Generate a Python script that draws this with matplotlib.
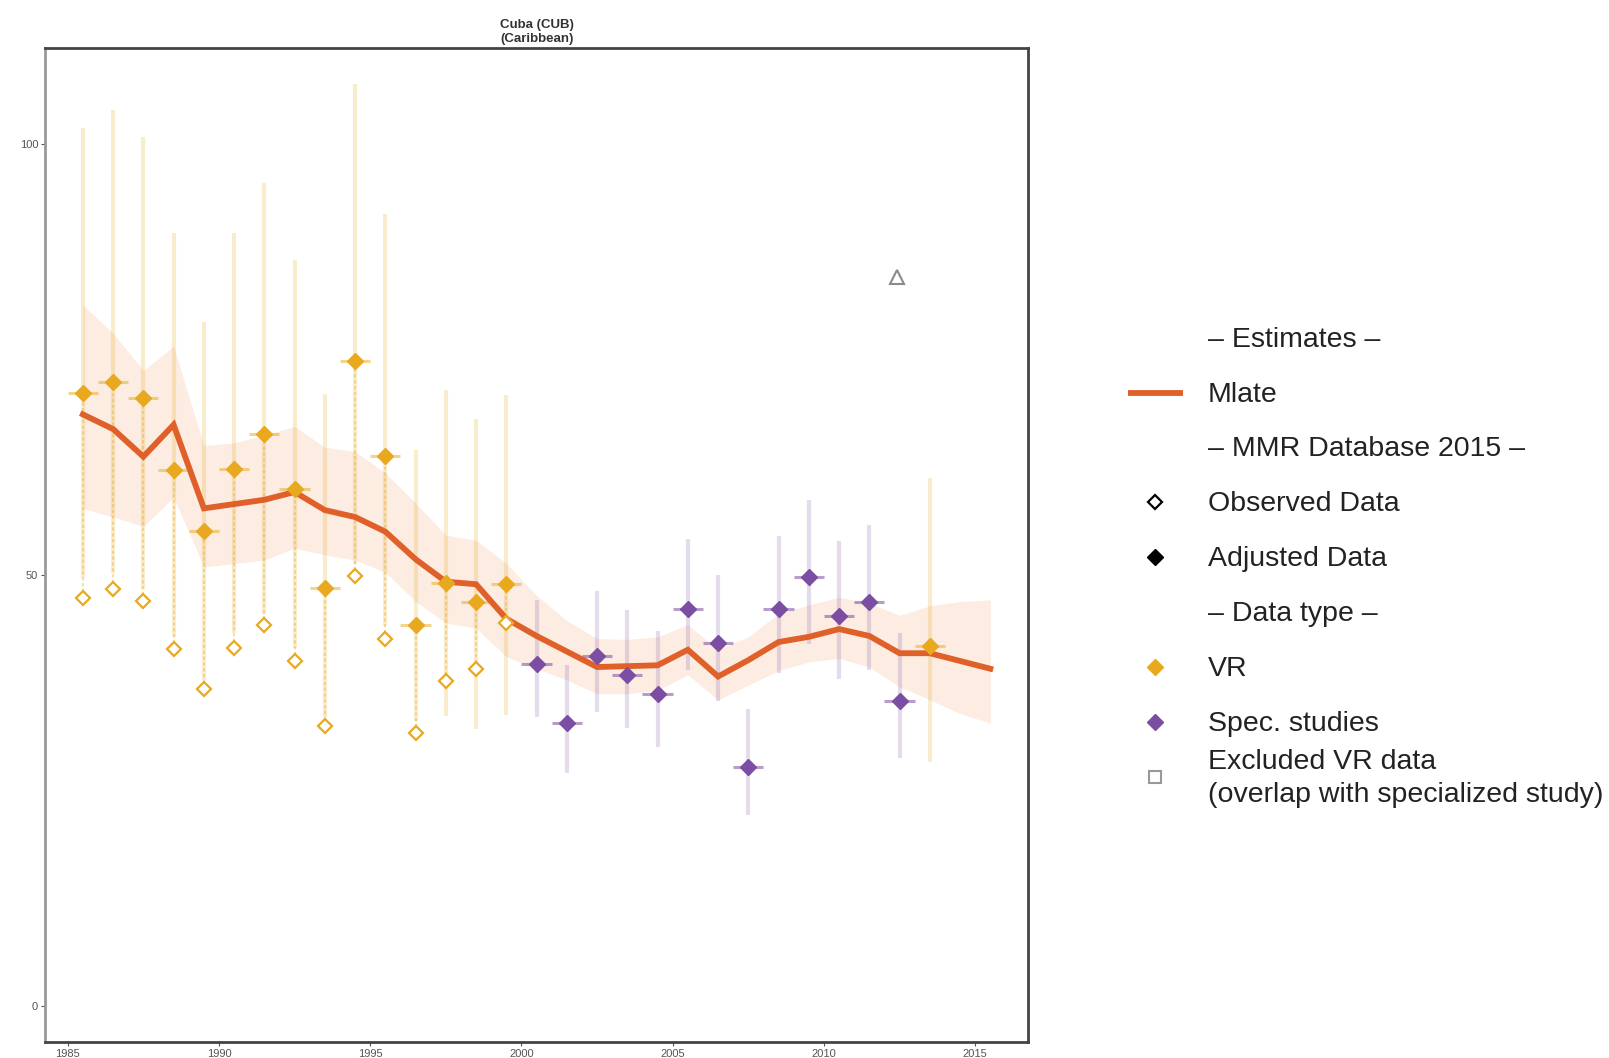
import numpy as np
import matplotlib
matplotlib.use('Agg')
import matplotlib.pyplot as plt

plt.rcParams['font.family'] = ['Liberation Sans', 'DejaVu Sans']

# MMR estimates (Mlate) with uncertainty band
est_years = [1985.5, 1986.5, 1987.5, 1988.5, 1989.5, 1990.5, 1991.5, 1992.5, 1993.5, 1994.5,
             1995.5, 1996.5, 1997.5, 1998.5, 1999.5, 2000.5, 2001.5, 2002.5, 2003.5, 2004.5,
             2005.5, 2006.5, 2007.5, 2008.5, 2009.5, 2010.5, 2011.5, 2012.5, 2013.5, 2014.5, 2015.5]
mlate = [68.6, 66.9, 63.7, 67.4, 57.7, 58.2, 58.7, 59.6, 57.5, 56.7,
         55.0, 51.8, 49.2, 48.9, 44.9, 42.9, 41.1, 39.3, 39.4, 39.5,
         41.3, 38.2, 40.1, 42.2, 42.8, 43.7, 42.9, 40.9, 40.9, 40.0, 39.1]
mlate_upper = [81.3, 78.0, 73.7, 76.5, 65.0, 65.3, 66.2, 67.2, 64.8, 64.3,
               61.8, 58.3, 54.6, 54.0, 51.3, 47.6, 44.7, 42.6, 42.5, 42.8,
               44.2, 41.3, 42.8, 45.5, 46.5, 47.4, 46.7, 45.3, 46.4, 46.9, 47.1]
mlate_lower = [57.7, 56.7, 55.6, 59.0, 50.9, 51.3, 51.7, 53.1, 52.3, 51.7,
               50.3, 46.9, 44.4, 43.8, 40.5, 39.1, 37.8, 36.2, 36.2, 36.6,
               38.4, 35.5, 37.2, 38.9, 39.9, 40.3, 39.3, 37.0, 35.5, 33.9, 32.8]

# VR data: adjusted values, CI, and observed values
vr_years = [1985.5, 1986.5, 1987.5, 1988.5, 1989.5, 1990.5, 1991.5, 1992.5, 1993.5, 1994.5,
            1995.5, 1996.5, 1997.5, 1998.5, 1999.5, 2013.5]
vr_adj = [71.1, 72.4, 70.5, 62.1, 55.1, 62.3, 66.3, 60.0, 48.5, 74.8,
          63.8, 44.2, 49.0, 46.8, 48.9, 41.7]
vr_upper = [101.8, 103.9, 100.8, 89.6, 79.3, 89.6, 95.5, 86.5, 71.0, 106.9,
            91.9, 64.5, 71.4, 68.1, 70.8, 61.2]
vr_lower = [49.6, 50.2, 48.4, 42.8, 37.8, 43.2, 45.5, 41.5, 33.5, 51.3,
            44.0, 33.0, 33.6, 32.1, 33.7, 28.3]
vr_obs_years = [1985.5, 1986.5, 1987.5, 1988.5, 1989.5, 1990.5, 1991.5, 1992.5, 1993.5, 1994.5,
                1995.5, 1996.5, 1997.5, 1998.5, 1999.5]
vr_obs = [47.3, 48.3, 46.9, 41.4, 36.7, 41.5, 44.2, 40.0, 32.4, 49.8,
          42.5, 31.6, 37.7, 39.1, 44.4]

# Specialized studies
spec_years = [2000.5, 2001.5, 2002.5, 2003.5, 2004.5, 2005.5, 2006.5, 2007.5, 2008.5, 2009.5,
              2010.5, 2011.5, 2012.5]
spec_adj = [39.7, 32.8, 40.6, 38.4, 36.2, 46.0, 42.1, 27.7, 46.0, 49.7, 45.2, 46.8, 35.4]
spec_upper = [47.1, 39.5, 48.1, 45.9, 43.5, 54.1, 50.0, 34.4, 54.5, 58.7, 53.9, 55.8, 43.2]
spec_lower = [33.5, 27.0, 34.1, 32.2, 30.0, 38.9, 35.4, 22.1, 38.6, 42.0, 37.9, 39.0, 28.8]

# lone open triangle marker
tri_x = [2012.43]
tri_y = [84.5]

legend_labels = ['– Estimates –', 'Mlate', '– MMR Database 2015 –', 'Observed Data', 'Adjusted Data',
                 '– Data type –', 'VR', 'Spec. studies',
                 'Excluded VR data\n(overlap with specialized study)']

c_line = '#E0602A'
c_vr = '#E8A91E'
c_spec = '#7B4DA3'

fig = plt.figure(figsize=(16.09, 10.58), dpi=100)
ax = fig.add_axes([0.028, 0.0151, 0.611, 0.9395])

ax.fill_between(est_years, mlate_lower, mlate_upper, color='#EE8040', alpha=0.15, lw=0, zorder=1)

# VR error bars, period bars and adjustment links
ax.vlines(vr_years, vr_lower, vr_upper, color=c_vr, alpha=0.22, lw=3, zorder=2)
ax.vlines(vr_obs_years, vr_obs, vr_adj[:len(vr_obs)], color=c_vr, alpha=0.45, lw=1.2,
          linestyles=(0, (2, 1.5)), zorder=2)
ax.hlines(vr_adj, np.array(vr_years) - 0.5, np.array(vr_years) + 0.5, color=c_vr, alpha=0.5,
          lw=2.2, zorder=3)

# Specialized study bars
ax.vlines(spec_years, spec_lower, spec_upper, color=c_spec, alpha=0.2, lw=3, zorder=2)
ax.hlines(spec_adj, np.array(spec_years) - 0.5, np.array(spec_years) + 0.5, color=c_spec, alpha=0.55,
          lw=2.2, zorder=3)

ax.plot(est_years, mlate, color=c_line, lw=4.2, zorder=4, solid_joinstyle='miter')

ax.plot(vr_obs_years, vr_obs, 'D', ms=7.5, mfc='white', mec=c_vr, mew=1.6, zorder=5)
ax.plot(vr_years, vr_adj, 'D', ms=8, mfc=c_vr, mec=c_vr, zorder=5)
ax.plot(spec_years, spec_adj, 'D', ms=8, mfc=c_spec, mec=c_spec, zorder=5)
ax.plot(tri_x, tri_y, '^', ms=10, mfc='white', mec='#8a8a8a', mew=1.5, zorder=5)

ax.set_xlim(1984.25, 2016.75)
ax.set_ylim(-4.2, 111.1)
ax.set_xticks([1985, 1990, 1995, 2000, 2005, 2010, 2015])
ax.set_yticks([0, 50, 100])
ax.tick_params(labelsize=8, length=3, width=0.8, colors='#555555', pad=2)
for s in ['top', 'right', 'bottom']:
    ax.spines[s].set_color('#444444')
    ax.spines[s].set_linewidth(2)
ax.spines['left'].set_color('#999999')
ax.spines['left'].set_linewidth(2)

ax.set_title('Cuba (CUB)\n(Caribbean)', fontsize=9.5, fontweight='bold', color='#333333', pad=4,
             linespacing=1.3)

# legend drawn on an overlay in pixel units (rows centred like an R legend)
lax = fig.add_axes([0, 0, 1, 1], zorder=-1)
lax.set_xlim(0, 1609)
lax.set_ylim(1058, 0)
lax.axis('off')
row0, step = 339.6, 54.9
text_x, mark_x = 1208, 1155
rows = [row0 + step * i for i in range(len(legend_labels))]
for lab, y in zip(legend_labels, rows):
    lax.text(text_x, y, lab, fontsize=20.5, color='#222222', va='center', ha='left', linespacing=1.35)
lax.plot([1128, 1183], [rows[1] - 2, rows[1] - 2], color=c_line, lw=4.2, solid_capstyle='butt')
lax.plot(mark_x, rows[3] - 2, 'D', ms=7.5, mfc='white', mec='black', mew=1.6)
lax.plot(mark_x, rows[4] - 2, 'D', ms=8, mfc='black', mec='black')
lax.plot(mark_x, rows[6] - 2, 'D', ms=8, mfc=c_vr, mec=c_vr)
lax.plot(mark_x, rows[7] - 2, 'D', ms=8, mfc=c_spec, mec=c_spec)
lax.plot(mark_x, rows[8] - 2, 's', ms=9, mfc='white', mec='#999999', mew=1.5)

fig.savefig('out.png', dpi=100)
